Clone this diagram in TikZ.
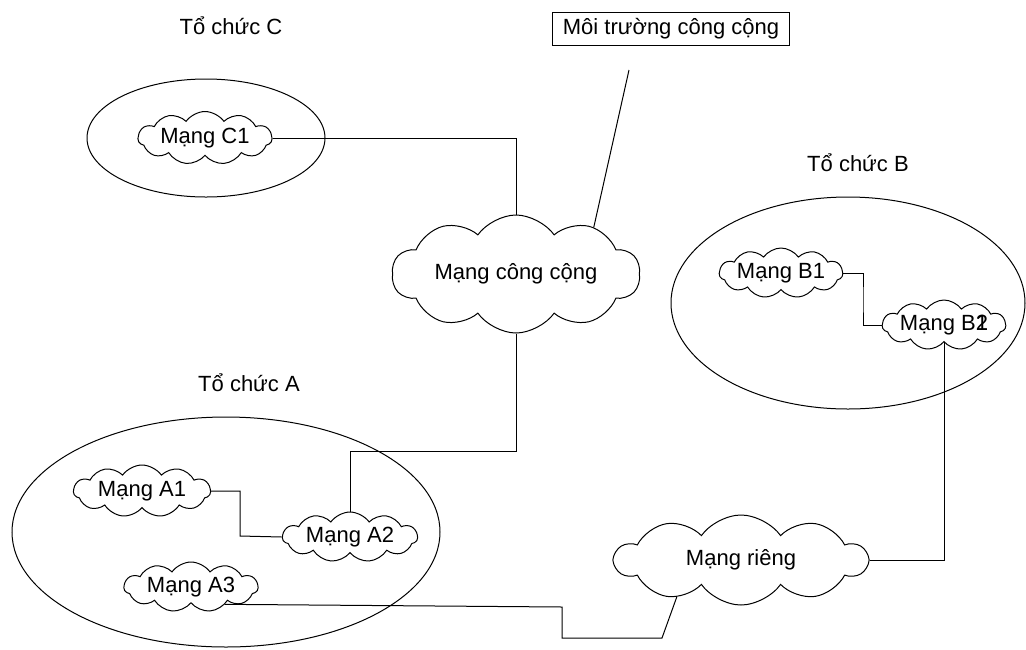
\documentclass[tikz,border=0pt]{standalone}
\usepackage{fontspec}
\setmainfont{Liberation Sans}
\usetikzlibrary{shapes.symbols}
\begin{document}
\begin{tikzpicture}[x=1pt,y=-1pt,line width=1pt,
  every node/.style={font=\fontsize{22}{26}\selectfont},
  net/.style={draw,cloud,cloud puffs=11,cloud puff arc=110,cloud ignores aspect,
    inner sep=0pt,minimum width=#1},
  net/.default=134pt,
  bignet/.style={draw,cloud,cloud puffs=10,cloud puff arc=110,cloud ignores aspect,
    inner sep=0pt},
  label/.style={inner sep=0pt},
  wire/.style={draw,line width=1pt}]
\useasboundingbox (0,0) rectangle (1026,649);

% organisations
\draw (206,138) ellipse [x radius=119pt, y radius=59pt];
\draw (226,532) ellipse [x radius=214pt, y radius=115pt];
\draw (848,303) ellipse [x radius=177pt, y radius=106pt];

\node[label] (tC) at (231,26) {Tổ chức C};
\node[label] (tA) at (249,383) {Tổ chức A};
\node[label] (tB) at (858,163) {Tổ chức B};
\node[draw,line width=1pt,inner sep=0pt,minimum width=237pt,minimum height=33pt] (env) at (671,28.5) {Môi trường công cộng};

% networks
\node[net,minimum height=53pt] (C1) at (205,138) {Mạng C1};
\node[net=137pt,minimum height=52pt] (A1) at (142,491) {Mạng A1};
\node[net=135pt,minimum height=50pt] (A2) at (350,537) {Mạng A2};
\node[net,minimum height=50pt] (A3) at (191,587) {Mạng A3};
\node[net=123pt,minimum height=50pt] (B1) at (781,273) {Mạng B1};
\node[net=122pt,minimum height=50pt] (B2) at (944,325) {Mạng B\rlap{1}2};
\node[bignet,minimum width=248pt,minimum height=118pt] (pub) at (516,274) {Mạng công cộng};
\node[bignet,minimum width=252pt,minimum height=90pt] (priv) at (741,560) {Mạng riêng};

% links
\coordinate (mt) at (629,70);
\coordinate (jA) at (0,451);
\coordinate (kA) at (240,536);
\coordinate (kB) at (863,300);
\coordinate (r1) at (562,607);
\coordinate (r2) at (662,638);

\draw[wire] (pub.31) -- (mt);
\draw[wire] (C1.east) -| (pub.north);
\draw[wire] (pub.south) |- (jA -| A2.north) -- (A2.north);
\draw[wire] (A1.east) -| (kA) -- (A2.west);
\draw[wire] (B1.east) -| (kB) |- (B2.west);
\draw[wire] (priv.east) -| (B2.south);
\draw[wire] (A3.-27) -- (r1) |- (r2) -- (priv.-150);
\end{tikzpicture}
\end{document}
